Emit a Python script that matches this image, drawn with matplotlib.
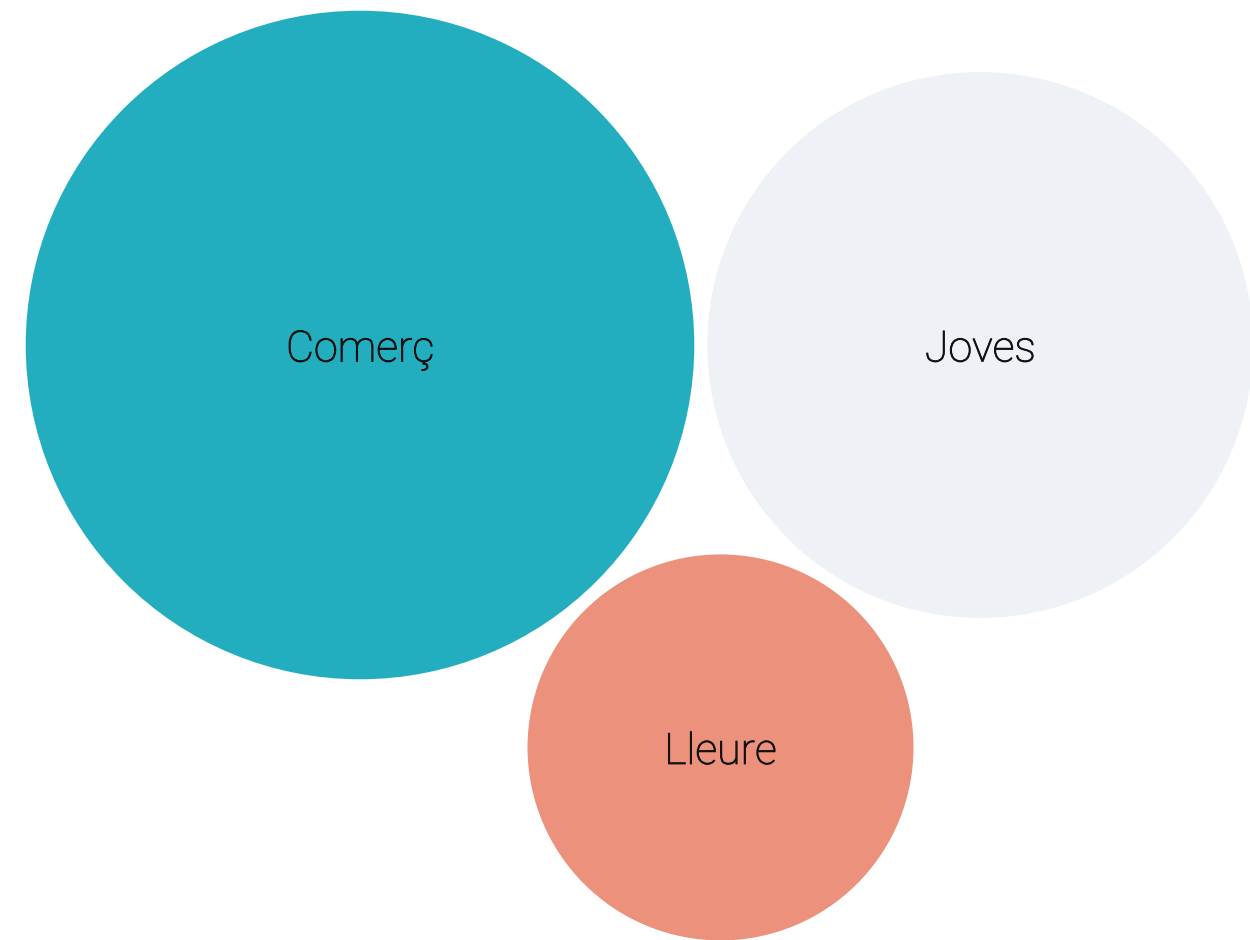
import numpy as np
import matplotlib
matplotlib.use("Agg")
import matplotlib.pyplot as plt
import matplotlib.patheffects as pe
from matplotlib.patches import Circle

categories = ["Comerç", "Joves", "Lleure"]
values = [3, 2, 1]
colors = ["#22AEBF", "#EEF1F6", "#EC917C"]

# layout (pixels)
unit = 193.0   # radius for value 1
pad = 13.0
radii = [unit * np.sqrt(v) for v in values]
r1, r2, r3 = radii
c1 = np.array([0.0, 0.0])
D = r1 + r2 + pad
c2 = np.array([D, 0.0])
d13 = r1 + r3 + pad
d23 = r2 + r3 + pad
x3 = (d13**2 - d23**2 + D**2) / (2 * D)
y3 = np.sqrt(d13**2 - x3**2)
c3 = np.array([x3, y3])
centers = [c1, c2, c3]

fig = plt.figure(figsize=(12.5, 9.4), dpi=100)
ax = fig.add_axes([0, 0, 1, 1])
ax.set_xlim(-360, 890)
ax.set_ylim(595, -345)
ax.set_aspect("equal")
ax.axis("off")

for name, c, r, col in zip(categories, centers, radii, colors):
    ax.add_patch(Circle(c, r, facecolor=col, edgecolor="none"))
    ax.text(c[0], c[1] + 5, name, ha="center", va="center", fontsize=31,
            family="Roboto", fontweight="light", color="#111111",
            path_effects=[pe.withStroke(linewidth=0.7, foreground="#111111")])

fig.savefig("out.png", dpi=100, facecolor="white")
